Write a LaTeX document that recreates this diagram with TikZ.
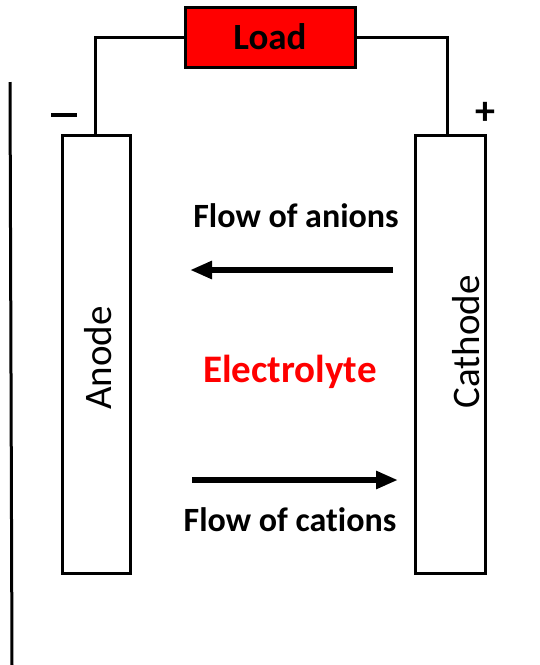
\documentclass[tikz,border=0pt]{standalone}
\usepackage{fontspec}
\setmainfont{Carlito}[Ligatures={NoCommon}]
\usetikzlibrary{arrows.meta}
\definecolor{loadred}{RGB}{255,0,0}
\begin{document}
\begin{tikzpicture}[x=1pt,y=-1pt,
  wire/.style={draw=black,line width=3pt},
  electrode/.style={draw=black,line width=3pt,fill=white,inner sep=0pt},
  flowarrow/.style={line width=5.5pt,-{Triangle[length=22pt,width=17pt]}},
  lbl/.style={font=\fontsize{34}{38}\selectfont\bfseries},
  big/.style={font=\fontsize{39}{44}\selectfont}]
\useasboundingbox (0,0) rectangle (540,665);
\node[electrode,fill=loadred,minimum width=170pt,minimum height=60pt] (load) at (270,37) {};
\node[font=\fontsize{37}{40}\selectfont\bfseries] at (load) {Load};
\node[electrode,minimum width=68pt,minimum height=438pt] (anode) at (96,354) {};
\node[electrode,minimum width=70pt,minimum height=438pt] (cathode) at (450,354) {};
\node[rotate=90,big] at (98,358) {Anode};
\node[rotate=90,big] at (466,342) {Cathode};
\draw[wire] (load.west) -| (anode.north -| 95,0);
\draw[wire] (load.east) -| (cathode.north -| 447,0);
\draw[line width=3.5pt] (51,115) -- (77,115);
\node[font=\fontsize{40}{44}\selectfont\bfseries] (plus) at (485,113) {+};
\draw[line width=3pt] (10,82) -- (12,665);
\node[lbl] (anions) at (296,216) {Flow of anions};
\node[text=loadred,font=\fontsize{39}{44}\selectfont\bfseries] (electrolyte) at (290,372) {Electrolyte};
\node[lbl] (cations) at (290,520) {Flow of cations};
\coordinate (a1) at (393,270); \coordinate (a2) at (190,270);
\coordinate (c1) at (192,480); \coordinate (c2) at (398,480);
\draw[flowarrow] (a1) -- (a2);
\draw[flowarrow] (c1) -- (c2);
\end{tikzpicture}
\end{document}
